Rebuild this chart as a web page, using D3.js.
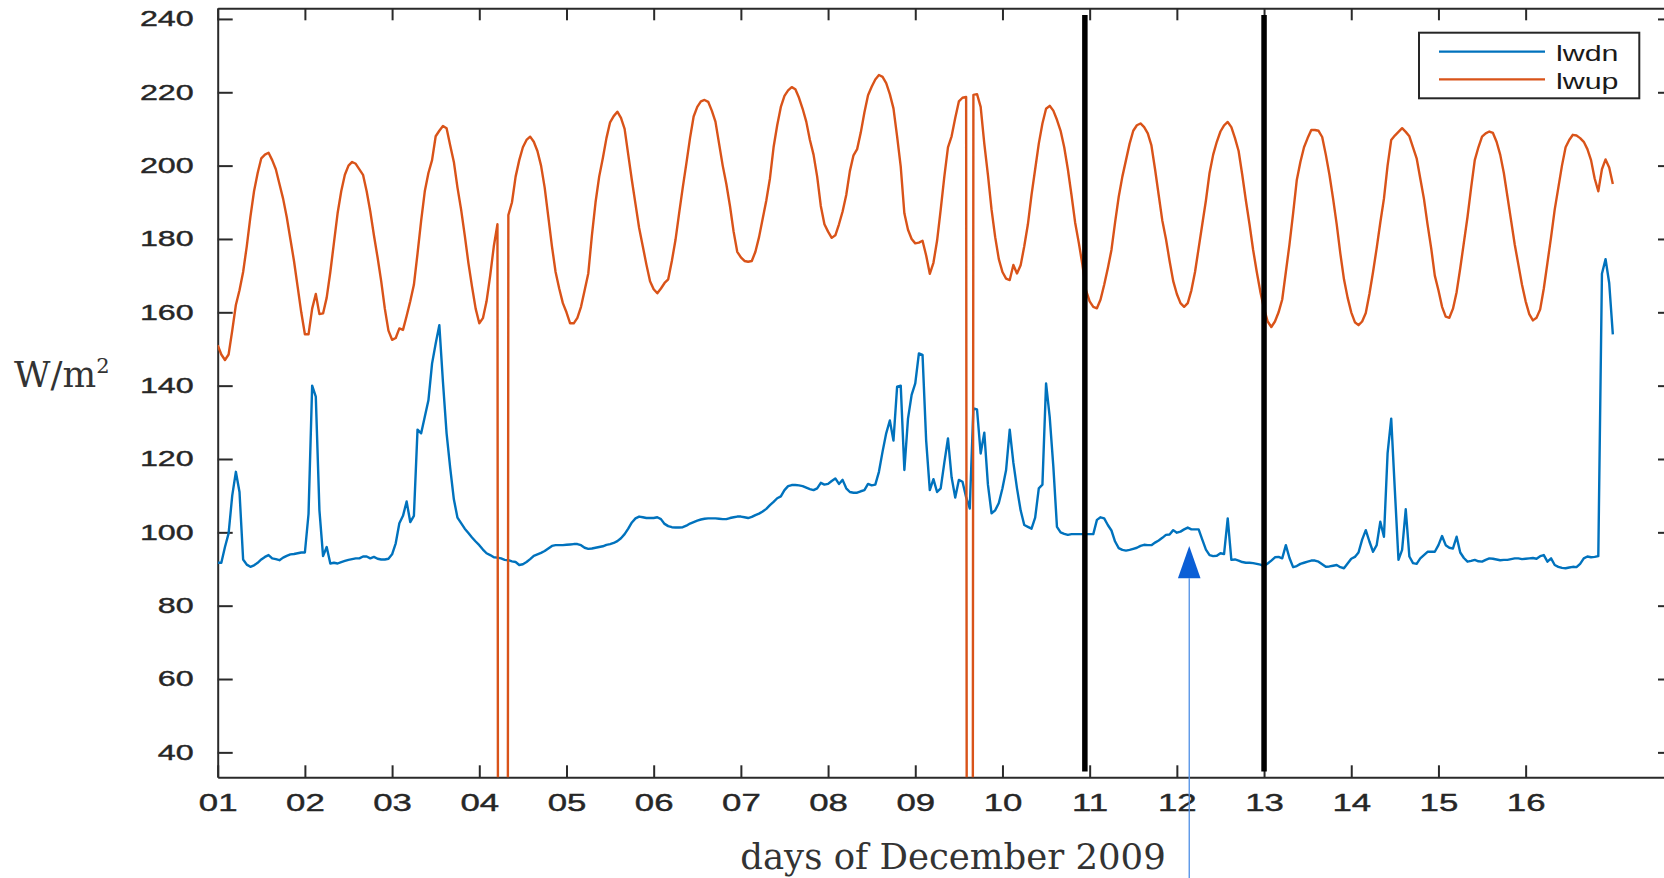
<!DOCTYPE html>
<html>
<head>
<meta charset="utf-8">
<title>lwdn / lwup, December 2009</title>
<script src="https://cdn.jsdelivr.net/npm/d3@7"></script>
<style>
  body { margin: 0; background: #fff; }
  svg { display: block; }
  .axis path, .axis line { stroke: #2a2a2a; stroke-width: 2; }
  .axis text { font-family: 'Liberation Sans', Arial, sans-serif; fill: #262626; stroke: #262626; stroke-width: 0.4; }
  .serif { font-family: 'DejaVu Serif', serif; fill: #333; }
</style>
</head>
<body>
<svg id="chart" width="1664" height="878"></svg>
<script>
// hourly values, one row per day of December 2009 (row 0 = day 01), last row = 17th 00:00
var lwdn = [
  [91.7, 91.7, 96, 99.7, 110, 116.5, 111, 92.6, 91.2, 90.6, 91, 91.7, 92.6, 93.3, 93.8, 92.9, 92.7, 92.4, 93.1, 93.6, 94, 94.1, 94.3, 94.5],
  [94.5, 105, 140, 137, 106, 93.5, 96, 91.5, 91.7, 91.5, 91.9, 92.2, 92.5, 92.7, 92.9, 92.9, 93.4, 93.4, 92.9, 93.3, 92.8, 92.6, 92.6, 92.8],
  [94, 97, 102.5, 104.5, 108.4, 102.8, 104.5, 128, 127, 131.5, 136, 146, 151.5, 156.5, 141, 127, 117.5, 109, 104, 102.5, 101, 99.8, 98.6, 97.5],
  [96.5, 95.3, 94.3, 93.8, 93.2, 93.1, 92.9, 92.5, 92.4, 92.1, 91.9, 91.1, 91.3, 91.9, 92.7, 93.6, 94, 94.4, 94.9, 95.6, 96.3, 96.5, 96.5, 96.5],
  [96.6, 96.7, 96.8, 96.8, 96.5, 95.8, 95.5, 95.6, 95.8, 96, 96.2, 96.6, 96.8, 97.1, 97.6, 98.4, 99.5, 101, 102.7, 103.8, 104.3, 104.1, 103.9, 103.9],
  [103.9, 104.1, 103.6, 102.3, 101.7, 101.4, 101.3, 101.3, 101.4, 101.8, 102.4, 102.8, 103.2, 103.5, 103.7, 103.8, 103.8, 103.8, 103.7, 103.6, 103.6, 103.9, 104.1, 104.3],
  [104.3, 104.1, 103.9, 104.2, 104.7, 105.1, 105.7, 106.4, 107.4, 108.3, 109.3, 109.8, 111.5, 112.6, 112.9, 112.9, 112.8, 112.6, 112.2, 111.8, 111.5, 112, 113.5, 113],
  [113.2, 114, 114.7, 113.2, 114.3, 112, 111, 110.8, 110.8, 111.2, 111.5, 113.2, 112.8, 113, 116.5, 122, 127, 130.5, 125, 139.7, 140, 117, 131, 137.5],
  [140.6, 148.8, 148.4, 125, 111.5, 114.5, 111, 112, 119, 125.6, 115, 109.5, 114.3, 113.8, 109.6, 106.5, 133.8, 133.5, 121.5, 127.2, 113, 105.2, 106, 108],
  [112, 117, 128, 119, 112, 106, 102, 101.5, 101, 104, 112, 113, 140.6, 131.5, 118, 101.5, 100, 99.6, 99.3, 99.5, 99.5, 99.5, 99.5, 99.5],
  [99.5, 99.5, 103.4, 104.1, 103.8, 102, 100.5, 97.5, 95.7, 95.2, 95, 95.2, 95.5, 95.8, 96.3, 96.6, 96.5, 96.5, 97.2, 97.8, 98.5, 99.3, 99.4, 100.6],
  [99.9, 100.2, 100.8, 101.3, 100.8, 100.8, 100.8, 98, 95.3, 93.8, 93.5, 93.6, 94.3, 94.1, 103.8, 92.5, 92.6, 92.3, 91.9, 91.7, 91.7, 91.6, 91.4, 91.2],
  [90.8, 91.5, 92.3, 93.2, 93.3, 92.9, 96.5, 93, 90.5, 90.8, 91.4, 91.7, 92, 92.3, 92.3, 92, 91.3, 90.6, 90.7, 90.9, 91.1, 90.5, 90.2, 91.5],
  [92.8, 93.3, 94.5, 98, 100.6, 97.5, 94.7, 96.5, 102.9, 98.8, 121.5, 131, 111.5, 92.5, 95.2, 106.3, 93.4, 91.6, 91.4, 92.9, 93.8, 94.7, 94.7, 94.7],
  [96.5, 99, 96.5, 95.8, 95.6, 98.8, 94.5, 93, 92, 92.2, 92.5, 92.1, 92, 92.5, 92.9, 92.8, 92.6, 92.4, 92.5, 92.5, 92.7, 92.9, 92.9, 92.7],
  [92.8, 92.9, 93, 92.8, 93.5, 93.8, 92, 92.9, 91.1, 90.6, 90.3, 90.2, 90.4, 90.6, 90.5, 91.4, 92.9, 93.4, 93.2, 93.3, 93.5, 170.5, 174.5, 168],
  [154]
];

// -999 = missing value in the logger file, it plunges below the axis
var lwup = [
  [151, 148.5, 147, 148.5, 155, 162, 166, 171, 178, 186, 193, 198, 202, 203, 203.5, 201.5, 199, 195, 191, 186, 180, 174, 167, 160],
  [154, 154, 161, 165, 159.5, 159.7, 164, 171, 179, 187, 193, 197.5, 200, 201, 200.5, 199, 197.5, 193, 187.5, 181, 175, 168.5, 161, 155],
  [152.5, 153, 155.6, 155.2, 159, 163, 167.5, 176, 185, 193, 198, 201.5, 208, 209.5, 210.8, 210.2, 205.5, 201, 194, 188, 181, 173.5, 167, 161],
  [157, 158.4, 163, 170, 178, 184, -999, -999, 186.5, 190, 197, 201.5, 205, 207, 207.9, 206.5, 204, 200, 194, 186, 178, 171, 166.5, 162.5],
  [160, 157, 157, 158.5, 161.5, 166, 170.6, 181, 190, 197, 202, 207.5, 211.8, 213.5, 214.7, 213, 210, 203, 196, 189.5, 183, 178, 173, 168.5],
  [166.3, 165.2, 166.5, 168, 169, 174, 179.7, 187, 194, 200.6, 207.5, 213.4, 216, 217.5, 217.9, 217.4, 215, 212, 206, 200, 195, 189, 182, 176.5],
  [175, 174, 173.8, 174, 176.5, 180.5, 185.5, 190.5, 196.5, 205, 211, 216, 219, 220.5, 221.4, 220.8, 218.5, 215.5, 212, 207, 203, 197, 189, 184],
  [182, 180.3, 181, 184, 187.5, 192, 198.5, 202.8, 204.5, 209, 214.5, 219.2, 221.5, 223.5, 224.7, 224.2, 222.5, 219.5, 215.6, 208, 199.7, 187, 182.5, 180],
  [178.8, 179, 179.5, 175.5, 170.5, 173.5, 179.5, 188, 197, 205, 208, 213, 217.5, 218.5, 218.7, -999, 219.3, 219.5, 216, 206, 197.5, 188, 180.5, 174.5],
  [171, 169.2, 168.8, 172.9, 170.6, 172.8, 178, 184, 192, 199, 206, 211.5, 215.5, 216.3, 215, 212.5, 209.5, 205, 199, 192, 184.5, 179, 173, 166],
  [163, 161.5, 161.1, 163.5, 167.5, 172, 177, 184.5, 191.5, 197, 201.5, 206, 209.5, 211, 211.5, 210.5, 208.8, 205.5, 199, 192, 185, 180, 174, 168.5],
  [165, 162.5, 161.5, 162.5, 166, 171, 177.5, 184, 190.5, 198, 203, 206.5, 209.3, 211, 211.9, 210.5, 207.5, 204, 197.5, 190.5, 184, 177, 171, 165.5],
  [161, 157.5, 156, 157.5, 160, 163.5, 171, 178.5, 187, 196, 201, 205, 207.5, 209.7, 209.7, 209.5, 207.8, 203, 197.5, 191, 184, 176, 169, 164],
  [160, 157.3, 156.5, 157.5, 159.8, 165, 171, 177.5, 184.5, 191, 200, 207, 208.2, 209.2, 210.2, 209.2, 208, 205, 202, 196.5, 191, 184, 177.5, 170],
  [166, 161.5, 158.8, 158.5, 161, 165.5, 172, 179, 186, 194, 201.5, 205, 207.9, 208.8, 209.3, 208.9, 206.5, 203, 198, 191.5, 185, 178.5, 173, 167.5],
  [163, 159.5, 157.8, 158.5, 160.8, 166.5, 173.5, 180.5, 188, 194, 200, 205, 207, 208.4, 208.2, 207.5, 206.5, 204.5, 201.5, 196.5, 193, 199, 201.7, 199.5],
  [195]
];

var seriesNames = ["lwdn", "lwup"];
var seriesColors = ["#0072bd", "#d95319"];
var dayTicks = d3.range(1, 17);
var wTicks = [40, 60, 80, 100, 120, 140, 160, 180, 200, 220, 240];
var markerDays = [10.945, 13.0];       // the two black bars
var arrowDay = 12.142, arrowTip = 96.3, arrowBase = 87.5;

// turn day rows into {t, v}
function toPoints(rows) {
  var pts = [];
  rows.forEach(function(row, i) {
    row.forEach(function(v, h) { pts.push({ t: 1 + i + h / 24, v: v }); });
  });
  return pts;
}

(function draw() {
  var svg = d3.select("#chart");
  // note: "top" is taken by window.top, so plot box names are spelled out
  var plotLeft = 217.7, plotRight = 1673, plotTop = 8.3, plotBottom = 777.3;

  var x = d3.scaleLinear().domain([1, 17.69]).range([plotLeft, plotRight]);
  var y = d3.scaleLinear().domain([33.2, 242.9]).range([plotBottom, plotTop]);

  svg.append("defs").append("clipPath").attr("id", "plotClip")
    .append("rect").attr("x", plotLeft).attr("y", plotTop)
    .attr("width", plotRight - plotLeft).attr("height", plotBottom - plotTop);

  // box axes, matlab style inward ticks
  var xAxis = svg.append("g").attr("class", "axis")
    .attr("transform", "translate(0," + plotBottom + ")")
    .call(d3.axisBottom(x).tickValues(dayTicks).tickSizeInner(-12).tickSizeOuter(0)
      .tickFormat(d3.format("02d")));
  xAxis.selectAll("text")
    .attr("y", 33.5).attr("dy", 0)
    .attr("font-size", 24)
    .attr("transform", "scale(1.45,1)");

  svg.append("g").attr("class", "axis")
    .attr("transform", "translate(0," + plotTop + ")")
    .call(d3.axisTop(x).tickValues(dayTicks).tickSizeInner(-12).tickSizeOuter(0).tickFormat(""));

  var yAxis = svg.append("g").attr("class", "axis")
    .attr("transform", "translate(" + plotLeft + ",0)")
    .call(d3.axisLeft(y).tickValues(wTicks).tickSizeInner(-15).tickSizeOuter(0));
  yAxis.selectAll("text")
    .attr("x", 0)
    .attr("font-size", 21.5)
    .attr("transform", "translate(-24,0) scale(1.5,1)");

  svg.append("g").attr("class", "axis")
    .attr("transform", "translate(" + plotRight + ",0)")
    .call(d3.axisRight(y).tickValues(wTicks).tickSizeInner(-15).tickSizeOuter(0).tickFormat(""));

  svg.selectAll(".axis .domain").attr("fill", "none");

  // the two series
  var line = d3.line().x(function(d) { return x(d.t); }).y(function(d) { return y(d.v); });
  var plot = svg.append("g").attr("clip-path", "url(#plotClip)");
  [lwdn, lwup].forEach(function(rows, i) {
    plot.append("path")
      .datum(toPoints(rows))
      .attr("fill", "none")
      .attr("stroke", seriesColors[i])
      .attr("stroke-width", 2.4)
      .attr("stroke-linejoin", "round")
      .attr("d", line);
  });

  // black bars
  svg.selectAll("line.marker")
    .data(markerDays)
    .enter().append("line")
    .attr("class", "marker")
    .attr("x1", function(d) { return x(d); })
    .attr("x2", function(d) { return x(d); })
    .attr("y1", y(241.1))
    .attr("y2", y(34.8))
    .attr("stroke", "#000")
    .attr("stroke-width", 5.5);

  // legend
  var lg = svg.append("g");
  lg.append("rect")
    .attr("x", 1419).attr("y", 32.7).attr("width", 220.3).attr("height", 65.6)
    .attr("fill", "#fff").attr("stroke", "#262626").attr("stroke-width", 2);
  var legendY = [51.7, 79.3];
  seriesNames.forEach(function(name, i) {
    lg.append("line")
      .attr("x1", 1439).attr("x2", 1545)
      .attr("y1", legendY[i]).attr("y2", legendY[i])
      .attr("stroke", seriesColors[i]).attr("stroke-width", 2.2);
    lg.append("text")
      .attr("transform", "translate(1556," + (legendY[i] + 9.5) + ") scale(1.38,1)")
      .attr("font-family", "'Liberation Sans', Arial, sans-serif")
      .attr("font-size", 22)
      .attr("fill", "#1a1a1a")
      .text(name);
  });

  // arrow annotation
  var ax = x(arrowDay);
  svg.append("line")
    .attr("x1", ax).attr("x2", ax)
    .attr("y1", y(arrowBase)).attr("y2", 878)
    .attr("stroke", "#4d8fe6").attr("stroke-width", 1.3);
  svg.append("path")
    .attr("d", "M" + ax + "," + y(arrowTip) + "L" + (ax + 11.3) + "," + y(arrowBase) + "L" + (ax - 11.3) + "," + y(arrowBase) + "Z")
    .attr("fill", "#0b5fd6");

  // axis titles
  var yt = svg.append("text").attr("class", "serif")
    .attr("x", 14).attr("y", 387).attr("font-size", 35.5);
  yt.append("tspan").text("W/m");
  yt.append("tspan").attr("font-size", 21).attr("dy", -14).text("2");

  svg.append("text").attr("class", "serif")
    .attr("x", 953).attr("y", 869)
    .attr("text-anchor", "middle")
    .attr("font-size", 35.5)
    .text("days of December 2009");
})();
</script>
</body>
</html>
